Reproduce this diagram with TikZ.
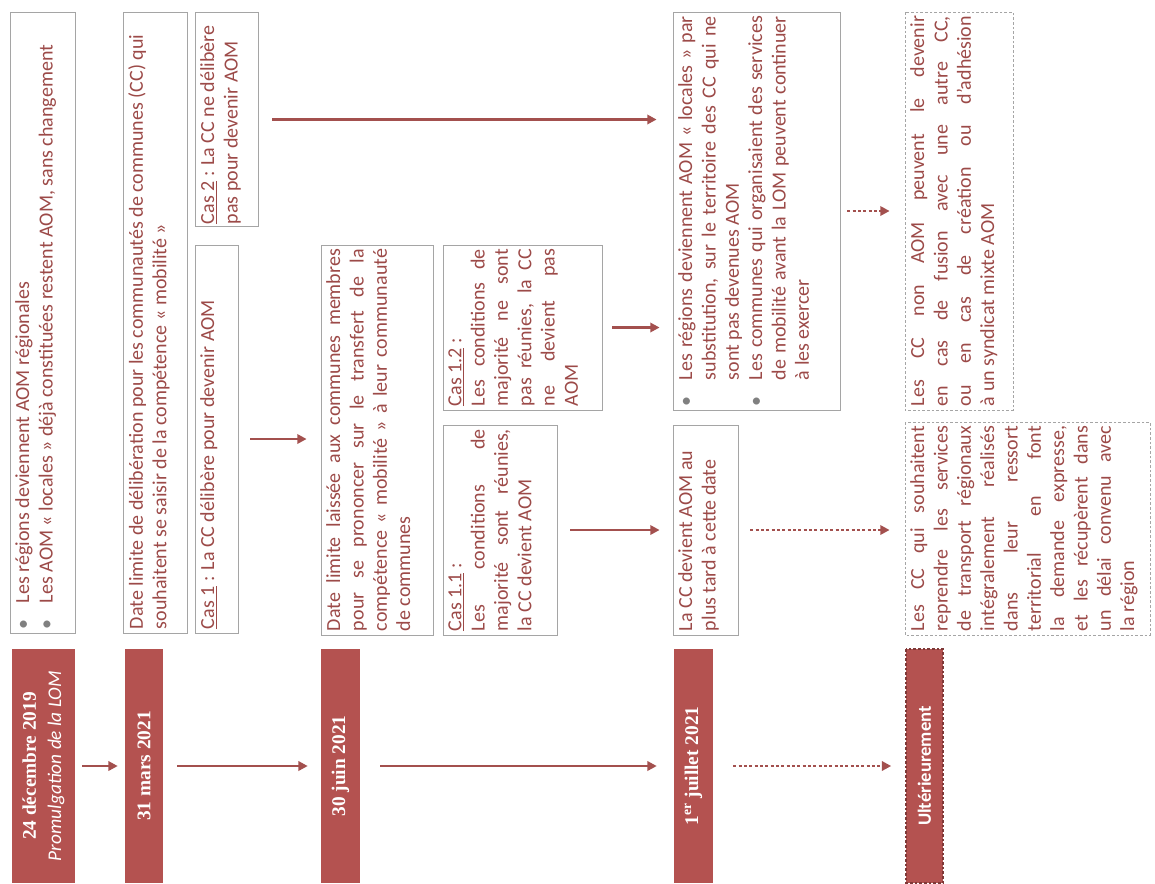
\documentclass[tikz,border=0pt]{standalone}
\usepackage{fontspec}
\setmainfont{Carlito}
\newfontfamily\datefont{Liberation Serif}
\usetikzlibrary{arrows.meta}

\definecolor{barred}{RGB}{180,82,80}
\definecolor{txtred}{RGB}{156,74,72}
\definecolor{arrowred}{RGB}{163,80,78}
\definecolor{boxgray}{RGB}{165,165,165}

\newcommand\bodyfont{\fontsize{15}{17.5}\selectfont\tolerance=9999\relax\hyphenpenalty=10000\relax}
\newcommand\puce{\par\hangindent=1.3em\relax\hangafter=1\relax\noindent\makebox[1.3em][l]{\textcolor{gray}{\textbullet}}}
\newcommand\boxtext[3]{\parbox[c][#1][t]{#2}{#3}}

\begin{document}
\begin{tikzpicture}[x=0.75pt, y=-0.75pt]

  \tikzstyle{box} = [rotate=90, draw=boxgray, line width=0.6pt, inner xsep=3pt, inner ysep=4pt, text=txtred, font=\bodyfont]
  \tikzstyle{dotbox} = [box, dash pattern=on 2pt off 1.5pt]
  \tikzstyle{datebar} = [rotate=90, fill=barred, text=white, inner sep=0pt, align=center, minimum width=175.5pt,
                         font=\datefont\bfseries\fontsize{14.5}{19}\selectfont]
  \tikzstyle{flow} = [line width=2.2pt, arrowred, -{Triangle[length=7pt,width=7pt]}]
  \tikzstyle{later} = [flow, dash pattern=on 2.2pt off 1.8pt]

  \useasboundingbox (0,0) rectangle (1155,883);

  \node[box] (regA) at (42.5,322.5) {\boxtext{40.75pt}{459.75pt}{\raggedright
    \puce Les régions deviennent AOM régionales\puce Les AOM «~locales~» déjà constituées restent AOM, sans changement}};
  \node[box] (limA) at (155,322.5) {\boxtext{40pt}{459.75pt}{\raggedright
    Date limite de délibération pour les communautés de communes (CC) qui\\ souhaitent se saisir de la compétence «~mobilité~»}};
  \node[box] (cas1) at (216.5,439) {\boxtext{24.25pt}{285pt}{\raggedright
    \underline{Cas 1}~: La CC délibère pour devenir AOM}};
  \node[box, inner xsep=2pt] (cas2) at (226.5,119.5) {\boxtext{39.25pt}{157pt}{\raggedright
    \underline{Cas 2}~: La CC ne délibère\\ pas pour devenir AOM}};

  \node[box] (limB) at (377,440) {\boxtext{76pt}{286.5pt}{
    Date limite laissée aux communes membres\linebreak pour se prononcer sur le transfert de la\linebreak
    compétence «~mobilité~» à leur communauté\linebreak de communes}};
  \node[box] (cas11) at (500,530) {\boxtext{77.5pt}{151.5pt}{
    \underline{Cas 1.1}~:\\ Les conditions de\linebreak majorité sont réunies,\linebreak la CC devient AOM}};
  \node[box] (cas12) at (522.5,327.5) {\boxtext{111.25pt}{117.75pt}{
    \underline{Cas 1.2}~:\\ Les conditions de\linebreak majorité ne sont\linebreak pas réunies, la CC\linebreak ne devient pas\linebreak AOM}};

  \node[box] (regB) at (756.5,211) {\boxtext{117.25pt}{292.5pt}{
    \puce Les régions deviennent AOM «~locales~» par\linebreak substitution, sur le territoire des CC qui ne\linebreak sont pas devenues AOM
    \puce Les communes qui organisaient des services\linebreak de mobilité avant la LOM peuvent continuer\linebreak à les exercer}};
  \node[box] (ccAom) at (705.5,530) {\boxtext{40.75pt}{151.5pt}{\raggedright
    La CC devient AOM au\\ plus tard à cette date}};

  \node[dotbox] (fusion) at (959,211) {\boxtext{73pt}{292.5pt}{
    Les CC non AOM peuvent le devenir\linebreak en cas de fusion avec une autre CC,\linebreak
    ou en cas de création ou d’adhésion\linebreak à un syndicat mixte AOM}};
  \node[dotbox] (reprise) at (1027.5,528.5) {\boxtext{175.75pt}{153.75pt}{
    Les CC qui souhaitent\linebreak reprendre les services\linebreak de transport régionaux\linebreak intégralement réalisés\linebreak
    dans leur ressort\linebreak territorial en font\linebreak la demande expresse,\linebreak et les récupèrent dans\linebreak
    un délai convenu avec\linebreak la région}};

  \node[datebar, minimum height=47.25pt] (d1) at (43.5,766) {24 décembre 2019\\{\rmfamily\mdseries\itshape Promulgation de la LOM}};
  \node[datebar, minimum height=28.5pt] (d2) at (144,766) {31 mars 2021};
  \node[datebar, minimum height=29.25pt] (d3) at (340.5,766) {30 juin 2021};
  \node[datebar, minimum height=29.25pt] (d4) at (693.5,766) {1\textsuperscript{er} juillet 2021};
  \node[datebar, minimum height=27.75pt, draw=barred!70!black, dash pattern=on 2pt off 1.5pt, line width=1.2pt,
        font=\bfseries\fontsize{14}{17}\selectfont] (d5) at (924.5,766) {Ultérieurement};

  \draw[flow, shorten <=5.25pt, shorten >=5.25pt] (d1.south) -- (d2.north);
  \draw[flow, shorten <=10.5pt, shorten >=9.75pt] (d2.south) -- (d3.north);
  \draw[flow, shorten <=15pt, shorten >=12.75pt] (d3.south) -- (d4.north);
  \draw[later, shorten <=15pt, shorten >=10.5pt] (d4.south) -- (d5.north);

  \draw[flow, shorten <=9pt, shorten >=10.5pt] (cas1.south) -- (cas1.south -| limB.north);
  \draw[flow, shorten <=10.5pt, shorten >=12pt] (cas2.south) -- (cas2.south -| regB.north);
  \draw[flow, shorten <=9.75pt, shorten >=9.75pt] (cas11.south) -- (cas11.south -| ccAom.north);
  \draw[flow, shorten <=7.5pt, shorten >=9.75pt] (cas12.south) -- (cas12.south -| regB.north);
  \draw[later, shorten <=5.25pt, shorten >=11.25pt] (regB.south) -- (regB.south -| fusion.north);
  \draw[later, shorten <=9pt, shorten >=11.25pt] (ccAom.south) -- (ccAom.south -| reprise.north);

\end{tikzpicture}
\end{document}
